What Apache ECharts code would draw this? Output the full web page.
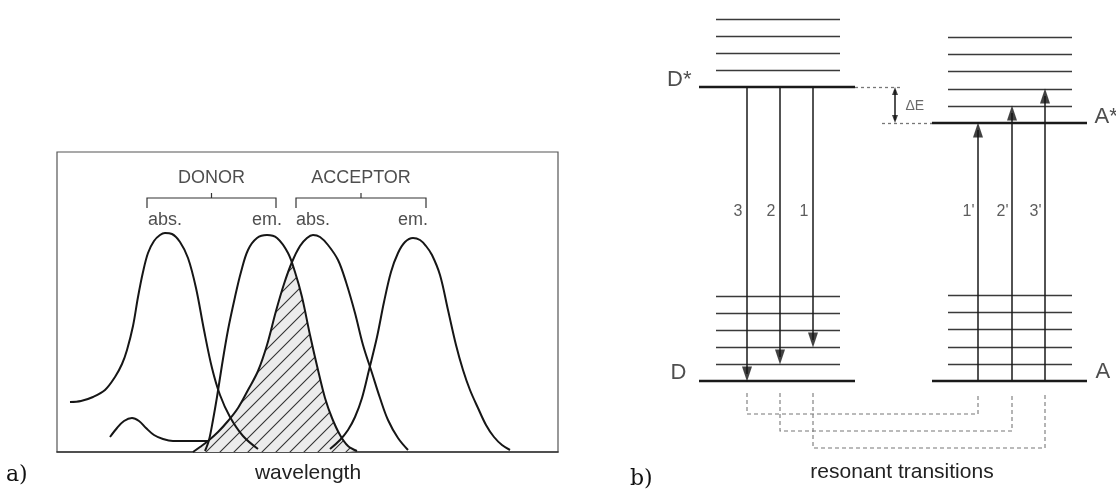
<!DOCTYPE html>
<html><head><meta charset="utf-8">
<script src="https://cdn.jsdelivr.net/npm/echarts@6/dist/echarts.min.js"></script>
<style>html,body{margin:0;padding:0;background:#fff}#c{width:1116px;height:497px}</style>
</head><body><div id="c"></div>
<script>
// ===== Panel a) spectra: [wavelength (arb.), intensity (arb.)]
const donorAbs = [[13,50],[24,51],[36,55],[48,62],[58,75],[65,88],[70,102],[76,126],[81,155],[86,180],[91,199],[97,211],[103,217],[108,219],[115,218],[123,210],[131,194],[139,164],[147,122],[155,84],[163,57],[173,35],[186,16],[201,3]];
const donorEm = [[148,1],[152,12],[156,32],[160,55],[165,87],[171,122],[178,155],[184,180],[191,202],[200,214],[210,217],[220,214],[231,199],[238,180],[245,155],[253,117],[261,82],[268,54],[275,34],[283,17],[291,6],[300,1]];
const acceptorAbs = [[136,0],[143,5],[151,11],[161,20],[171,31],[181,44],[191,62],[201,81],[210,107],[219,141],[227,168],[235,190],[243,206],[250,214],[256,217],[263,215],[271,207],[281,192],[289,170],[298,139],[306,107],[315,79],[323,54],[331,32],[341,14],[351,2]];
const acceptorAbsShoulder = [[53,15],[60,24],[67,31],[75,34],[82,31],[89,24],[97,17],[106,13],[116,11],[128,11],[140,11],[151,11]];
const acceptorEm = [[273,3],[283,12],[291,22],[298,35],[305,54],[312,82],[320,115],[327,150],[334,180],[341,199],[348,210],[356,214],[363,212],[369,206],[375,197],[383,177],[391,142],[399,107],[406,82],[413,62],[421,44],[429,27],[437,15],[445,7],[453,2]];
const spectralOverlap = [[136,0],[143,5],[151,11],[161,20],[171,31],[181,44],[191,62],[201,81],[210,107],[219,141],[227,168],[235,189],[238,180],[245,155],[253,117],[261,82],[268,54],[275,34],[283,17],[291,6],[300,1]];
const bandNames = ['abs.','em.','abs.','em.'];
const groupNames = ['DONOR','ACCEPTOR'];
const groupSpans = [[90,219],[239,369]];

// ===== Panel b) energy levels (arb. energy units, ground state = 0)
const donorLevels = {ground:0, excited:294};
const acceptorLevels = {ground:0, excited:258};
const donorLowerVib = [17,34,51,68,85];
const donorUpperVib = [311,328,345,362];
const acceptorLowerVib = [17,34,52,69,86];
const acceptorUpperVib = [275,292,310,327,344];
const donorTransitionNames = ['3','2','1'];
const donorTransitionEnds = [0,17,34];
const acceptorTransitionNames = ["1'","2'","3'"];
const acceptorTransitionEnds = [258,275,292];

// ---- layout constants (schematic horizontal positions in panel b)
const DX = [99,255], DVX = [116,240], AX = [332,487], AVX = [348,472];
const dArrowX = [147,180,213], aArrowX = [378,412,445];
const resonanceDepth = [-67,-50,-33];

function hatch(){
  const c=document.createElement('canvas');c.width=c.height=14;
  const g=c.getContext('2d');g.fillStyle='#ececec';g.fillRect(0,0,14,14);
  g.strokeStyle='#333';g.lineWidth=1.1;g.beginPath();
  g.moveTo(-2,2);g.lineTo(2,-2);g.moveTo(-2,16);g.lineTo(16,-2);g.moveTo(12,16);g.lineTo(16,12);
  g.stroke();return c;
}
const FONT='"Liberation Sans", Arial, sans-serif';
const curve=(name,data)=>({name,type:'line',data,smooth:0.35,symbol:'none',xAxisIndex:0,yAxisIndex:0,
  lineStyle:{color:'#161616',width:2},z:3,silent:true});
const peakOf=d=>d.reduce((a,b)=>b[1]>a[1]?b:a);
function textSeries(xi,items,font){
  return {type:'scatter',xAxisIndex:xi,yAxisIndex:xi,symbol:'circle',symbolSize:1,silent:true,z:6,
    itemStyle:{color:'rgba(0,0,0,0)'},
    data:items.map(it=>({value:it.v,label:Object.assign({show:true,formatter:it.t,color:'#222',
      fontFamily:FONT,fontSize:font,position:'inside'},it.l||{})}))};
}
const segs=(arr)=>arr.map(c=>({coords:c}));

const bands=[donorAbs,donorEm,acceptorAbs,acceptorEm];
const levelsMain=[[[DX[0],donorLevels.ground],[DX[1],donorLevels.ground]],[[DX[0],donorLevels.excited],[DX[1],donorLevels.excited]],
  [[AX[0],acceptorLevels.ground],[AX[1],acceptorLevels.ground]],[[AX[0],acceptorLevels.excited],[AX[1],acceptorLevels.excited]]];
const vibs=[].concat(
  donorLowerVib.concat(donorUpperVib).map(e=>[[DVX[0],e],[DVX[1],e]]),
  acceptorLowerVib.concat(acceptorUpperVib).map(e=>[[AVX[0],e],[AVX[1],e]]));
const HEAD=7;
const shafts=[].concat(
  dArrowX.map((x,i)=>[[x,donorLevels.excited],[x,donorTransitionEnds[i]+HEAD]]),
  aArrowX.map((x,i)=>[[x,acceptorLevels.ground],[x,acceptorTransitionEnds[i]-HEAD]]),
  [[[295,acceptorLevels.excited+3],[295,donorLevels.excited-3]]]);
const dotted=[[[DX[1],donorLevels.excited],[303,donorLevels.excited]],[[282,acceptorLevels.excited],[AX[0],acceptorLevels.excited]]];
const connectors=dArrowX.map((x,i)=>[[x,-12],[x,resonanceDepth[2-i]],[aArrowX[i],resonanceDepth[2-i]],[aArrowX[i],-12]]);

const option={
  animation:false,backgroundColor:'#fff',
  grid:[{left:57,top:152,width:501,height:300,show:true,borderColor:'#555',borderWidth:1.2,backgroundColor:'transparent'},
        {left:600,top:0,width:516,height:497,show:false}],
  xAxis:[{type:'value',gridIndex:0,min:0,max:501,axisLine:{show:true,lineStyle:{color:'#333',width:1.6}},axisTick:{show:false},axisLabel:{show:false},splitLine:{show:false}},
         {type:'value',gridIndex:1,min:0,max:516,show:false}],
  yAxis:[{type:'value',gridIndex:0,min:0,max:300,show:false,splitLine:{show:false}},
         {type:'value',gridIndex:1,min:-116,max:381,show:false}],
  graphic:[
    {type:'text',left:6,top:464,style:{text:'a)',font:'22px "DejaVu Serif", serif',fill:'#111'}},
    {type:'text',left:630,top:468,style:{text:'b)',font:'22px "DejaVu Serif", serif',fill:'#111'}},
    {type:'text',x:308,y:473,style:{text:'wavelength',font:'21px '+FONT,fill:'#222',align:'center',verticalAlign:'middle'}},
    {type:'text',x:902,y:472,style:{text:'resonant transitions',font:'21px '+FONT,fill:'#222',align:'center',verticalAlign:'middle'}}
  ],
  series:[
    {name:'overlap',type:'line',data:spectralOverlap,smooth:0.35,symbol:'none',xAxisIndex:0,yAxisIndex:0,z:1,silent:true,
      lineStyle:{width:0},areaStyle:{color:{image:hatch(),repeat:'repeat'},opacity:1}},
    curve('donorAbs',donorAbs),curve('donorEm',donorEm),curve('acceptorAbs',acceptorAbs),
    curve('acceptorAbsShoulder',acceptorAbsShoulder),curve('acceptorEm',acceptorEm),
    {type:'lines',coordinateSystem:'cartesian2d',xAxisIndex:0,yAxisIndex:0,polyline:true,silent:true,
      lineStyle:{color:'#333',width:1.2,opacity:1},
      data:segs([].concat(groupSpans.map(s=>[[s[0],244],[s[0],254],[s[1],254],[s[1],244]]),
                          groupSpans.map(s=>[[(s[0]+s[1])/2,254],[(s[0]+s[1])/2,259]])))},
    textSeries(0,bands.map((b,i)=>({v:[peakOf(b)[0],232],t:bandNames[i]})),18),
    textSeries(0,groupSpans.map((s,i)=>({v:[(s[0]+s[1])/2,274],t:groupNames[i]})),18),
    // panel b
    {type:'lines',coordinateSystem:'cartesian2d',xAxisIndex:1,yAxisIndex:1,silent:true,
      lineStyle:{color:'#1a1a1a',width:2.4,opacity:1},data:segs(levelsMain)},
    {type:'lines',coordinateSystem:'cartesian2d',xAxisIndex:1,yAxisIndex:1,silent:true,
      lineStyle:{color:'#3a3a3a',width:1.4,opacity:1},data:segs(vibs)},
    {type:'lines',coordinateSystem:'cartesian2d',xAxisIndex:1,yAxisIndex:1,silent:true,
      lineStyle:{color:'#1a1a1a',width:1.5,opacity:1},data:segs(shafts)},
    {type:'lines',coordinateSystem:'cartesian2d',xAxisIndex:1,yAxisIndex:1,silent:true,
      lineStyle:{color:'#777',width:1.3,type:[3,3],opacity:1},data:segs(dotted)},
    {type:'lines',coordinateSystem:'cartesian2d',xAxisIndex:1,yAxisIndex:1,polyline:true,silent:true,
      lineStyle:{color:'#777',width:1.1,type:[4,3],opacity:1},data:segs(connectors)},
    {type:'scatter',xAxisIndex:1,yAxisIndex:1,silent:true,z:5,symbol:'path://M0,0L10,0L5,14Z',symbolSize:[10,15],
      itemStyle:{color:'#111'},data:dArrowX.map((x,i)=>[x,donorTransitionEnds[i]+HEAD])},
    {type:'scatter',xAxisIndex:1,yAxisIndex:1,silent:true,z:5,symbol:'path://M5,0L10,14L0,14Z',symbolSize:[10,15],
      itemStyle:{color:'#111'},data:aArrowX.map((x,i)=>[x,acceptorTransitionEnds[i]-HEAD])},
    {type:'scatter',xAxisIndex:1,yAxisIndex:1,silent:true,z:5,symbol:'path://M5,0L10,14L0,14Z',symbolSize:[6,8],
      itemStyle:{color:'#111'},data:[[295,donorLevels.excited-4]]},
    {type:'scatter',xAxisIndex:1,yAxisIndex:1,silent:true,z:5,symbol:'path://M0,0L10,0L5,14Z',symbolSize:[6,8],
      itemStyle:{color:'#111'},data:[[295,acceptorLevels.excited+4]]},
    textSeries(1,[
      {v:[DX[0],donorLevels.excited],t:'D*',l:{position:'left',distance:7,offset:[0,-7]}},
      {v:[DX[0],donorLevels.ground],t:'D',l:{position:'left',distance:12,offset:[0,-8]}},
      {v:[AX[1],acceptorLevels.excited],t:'A*',l:{position:'right',distance:7,offset:[0,-6]}},
      {v:[AX[1],acceptorLevels.ground],t:'A',l:{position:'right',distance:8,offset:[0,-9]}}],22),
    textSeries(1,dArrowX.map((x,i)=>({v:[x,169],t:donorTransitionNames[i],l:{position:'left',distance:4,color:'#333'}}))
      .concat(aArrowX.map((x,i)=>({v:[x,169],t:acceptorTransitionNames[i],l:{position:'left',distance:3,color:'#333'}}))),16),
    textSeries(1,[{v:[303,275],t:'ΔE',l:{position:'right',distance:2,color:'#444'}}],14)
  ]
};
const chart=echarts.init(document.getElementById('c'));
chart.setOption(option);
</script></body></html>
